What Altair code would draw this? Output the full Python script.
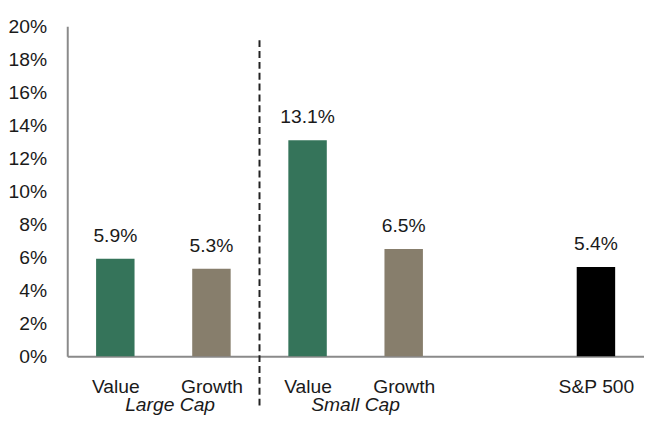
import altair as alt
import pandas as pd

# ---- data ----
categories = ["Value", "Growth", "Value", "Growth", "S&P 500"]
values = [5.9, 5.3, 13.1, 6.5, 5.4]
slots = [0, 1, 2, 3, 5]
bar_colors = ["#35745a", "#877e6c", "#35745a", "#877e6c", "#000000"]
group_names = ["Large Cap", "Small Cap"]
group_centers = [1.07, 3.0]
divider_at = [2.0]
y_ticks = [0, 2, 4, 6, 8, 10, 12, 14, 16, 18, 20]

FONT = "Liberation Sans, Arial, sans-serif"
FS = 19.5
TEXT = "#1a1a1a"
AXIS = "#8a8a8a"

bars_df = pd.DataFrame({
    "cat": categories,
    "value": values,
    "zero": [0] * len(values),
    "x0": [s + 0.3 for s in slots],
    "x1": [s + 0.7 for s in slots],
    "xc": [s + 0.5 for s in slots],
    "color": bar_colors,
    "label": [f"{v:.1f}%" for v in values],
})
groups_df = pd.DataFrame({"name": group_names, "xc": group_centers})
div_df = pd.DataFrame({"x": divider_at})

label_map = "{" + ",".join(f"'{s + 0.5}':'{c}'" for s, c in zip(slots, categories)) + "}"

xscale = alt.Scale(domain=[0, 6], nice=False, zero=False)
yscale = alt.Scale(domain=[0, 20], nice=False)

x_axis = alt.Axis(values=[s + 0.5 for s in slots], title=None, grid=False,
                  ticks=False, domainColor=AXIS, domainWidth=2,
                  labelExpr=f"{label_map}[''+datum.value]",
                  labelFont=FONT, labelFontSize=FS, labelColor=TEXT,
                  labelOverlap=False,
                  labelBaseline="alphabetic", labelPadding=37)
y_axis = alt.Axis(values=y_ticks, title=None, grid=False, ticks=False,
                  domainColor=AXIS, domainWidth=2,
                  labelExpr="datum.value + '%'",
                  labelOverlap=False,
                  labelFont=FONT, labelFontSize=FS, labelColor=TEXT,
                  labelPadding=21)

base = alt.Chart(bars_df)

bars = base.mark_bar().encode(
    x=alt.X("x0:Q", scale=xscale, axis=x_axis),
    x2="x1:Q",
    y=alt.Y("value:Q", scale=yscale, axis=y_axis),
    y2="zero:Q",
    color=alt.Color("color:N", scale=None, legend=None),
)

labels = base.mark_text(font=FONT, fontSize=FS, color=TEXT, baseline="alphabetic", dy=-17).encode(
    x=alt.X("xc:Q", scale=xscale, axis=x_axis),
    y=alt.Y("value:Q", scale=yscale, axis=y_axis),
    text="label:N",
)

divider = alt.Chart(div_df).mark_rule(color="#222222", strokeWidth=2, strokeDash=[7, 4]).encode(
    x=alt.X("x:Q", scale=xscale, axis=x_axis),
    y=alt.value(14),
    y2=alt.value(386),
)

group_text = alt.Chart(groups_df).mark_text(font=FONT, fontSize=FS, fontStyle="italic",
                                            color=TEXT, baseline="alphabetic").encode(
    x=alt.X("xc:Q", scale=xscale, axis=x_axis),
    y=alt.value(390),
    text="name:N",
)

chart = alt.layer(bars, labels, divider, group_text).properties(
    width=584,
    height=334,
    autosize=alt.AutoSizeParams(type="none"),
    padding={"left": 60, "top": 16, "right": 0, "bottom": 57},
).configure(
    font=FONT,
    view=alt.ViewConfig(stroke=None),
    axis=alt.AxisConfig(labelOverlap=False),
)

chart.save("out.html", embed_options={"renderer": "svg", "actions": False})
